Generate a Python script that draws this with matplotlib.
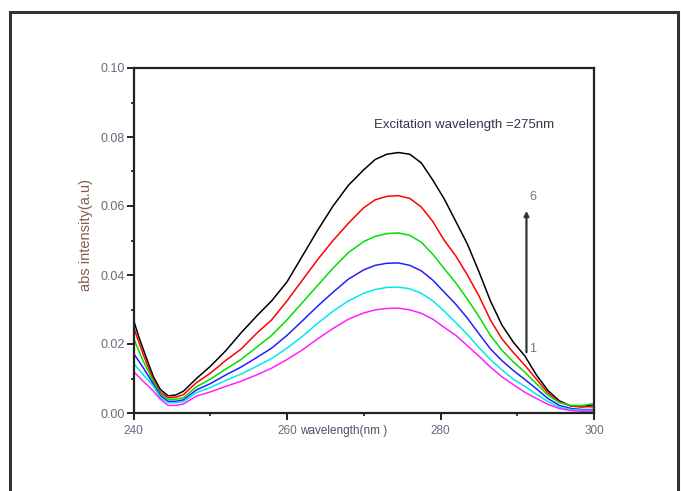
import matplotlib
matplotlib.use('Agg')
import matplotlib.pyplot as plt
from matplotlib.patches import Rectangle

plt.rcParams['font.family'] = ['Liberation Sans', 'DejaVu Sans']

# wavelength (nm) and absorbance, curve 1 (lowest) .. 6 (highest)
wavelength = [240, 240.7, 241.3, 242, 242.6, 243.5, 244.5, 245.5, 246.5, 248.2,
              250, 252, 254, 256, 258, 260, 262, 264, 266, 268,
              270, 271.5, 273, 274.5, 276, 277.5, 279, 280.5, 282, 283.5,
              285, 286.5, 288, 289.5, 291, 292.5, 294, 295.5, 297, 298.5, 300]

abs_6 = [0.027, 0.022, 0.0183, 0.014, 0.0105, 0.0068, 0.005, 0.0052, 0.0063, 0.010,
         0.0135, 0.018, 0.0232, 0.028, 0.0325, 0.038, 0.0455, 0.053, 0.060, 0.066,
         0.0705, 0.0735, 0.075, 0.0755, 0.075, 0.0725, 0.0675, 0.062, 0.0555, 0.049,
         0.041, 0.0325, 0.0255, 0.0205, 0.0165, 0.011, 0.0065, 0.0035, 0.002, 0.0018, 0.0025]
abs_5 = [0.025, 0.0205, 0.0168, 0.0128, 0.0096, 0.006, 0.0045, 0.0046, 0.0053, 0.0088,
         0.0115, 0.0152, 0.0185, 0.023, 0.027, 0.0325, 0.0385, 0.0445, 0.050, 0.055,
         0.0595, 0.0618, 0.0628, 0.063, 0.0622, 0.0597, 0.0555, 0.050, 0.0455, 0.040,
         0.034, 0.027, 0.0215, 0.0175, 0.0138, 0.0098, 0.0058, 0.0032, 0.002, 0.0018, 0.0018]
abs_4 = [0.0217, 0.018, 0.0149, 0.0118, 0.009, 0.0055, 0.004, 0.004, 0.0044, 0.0076,
         0.0098, 0.0127, 0.0155, 0.019, 0.0225, 0.027, 0.032, 0.037, 0.042, 0.0465,
         0.0497, 0.0512, 0.052, 0.0522, 0.0515, 0.0495, 0.046, 0.0418, 0.0377, 0.033,
         0.028, 0.0225, 0.0182, 0.0148, 0.0118, 0.0085, 0.0052, 0.003, 0.0022, 0.0022, 0.0027]
abs_3 = [0.0173, 0.015, 0.013, 0.0105, 0.0083, 0.005, 0.0034, 0.0034, 0.0038, 0.0067,
         0.0085, 0.011, 0.0133, 0.016, 0.0188, 0.0225, 0.0267, 0.031, 0.035, 0.0388,
         0.0415, 0.0428, 0.0434, 0.0435, 0.0428, 0.0412, 0.0385, 0.035, 0.0315, 0.0275,
         0.023, 0.0186, 0.0152, 0.0123, 0.0097, 0.007, 0.0042, 0.0022, 0.0013, 0.001, 0.001]
abs_2 = [0.0144, 0.0126, 0.011, 0.0093, 0.0077, 0.0045, 0.003, 0.003, 0.0033, 0.0059,
         0.0074, 0.0094, 0.0113, 0.0135, 0.0158, 0.0188, 0.0222, 0.026, 0.0295, 0.0325,
         0.0347, 0.0358, 0.0364, 0.0365, 0.036, 0.0347, 0.0325, 0.0295, 0.0262, 0.0228,
         0.019, 0.0155, 0.0125, 0.0098, 0.0077, 0.0054, 0.0033, 0.0017, 0.001, 0.0008, 0.0008]
abs_1 = [0.012, 0.0105, 0.0091, 0.0077, 0.0063, 0.004, 0.0022, 0.0022, 0.0026, 0.0049,
         0.0061, 0.0077, 0.0092, 0.011, 0.013, 0.0155, 0.0183, 0.0215, 0.0245, 0.0272,
         0.029, 0.0299, 0.0303, 0.0304, 0.0299, 0.0289, 0.0272, 0.0248, 0.0225, 0.0195,
         0.0165, 0.0133, 0.0105, 0.0082, 0.006, 0.0042, 0.0025, 0.0013, 0.0007, 0.0005, 0.0005]

series = [abs_6, abs_5, abs_4, abs_3, abs_2, abs_1]
colors = ['black', 'red', '#00e000', '#2020ff', '#00e8f0', '#ff20ff']

xticks = [240, 260, 280, 300]
yticks = [0.00, 0.02, 0.04, 0.06, 0.08, 0.10]

fig = plt.figure(figsize=(6.81, 4.91), dpi=100)
fig.patches.append(Rectangle((10 / 681, -0.05), 668 / 681, 1.05 - 12 / 491,
                             transform=fig.transFigure, fill=False,
                             edgecolor='#333333', lw=2.2))

ax = fig.add_axes([133.5 / 681, 1 - 413 / 491, 460.5 / 681, 345 / 491])

for vals, c in zip(series, colors):
    ax.plot(wavelength, vals, color=c, lw=1.1)

ax.set_xlim(240, 300)
ax.set_ylim(0, 0.10)
ax.set_xticks(xticks)
ax.set_xticks([250, 270, 290], minor=True)
ax.set_yticks(yticks)
ax.set_yticks([0.01, 0.03, 0.05, 0.07, 0.09], minor=True)
ax.set_xticklabels([str(t) for t in xticks])
ax.set_yticklabels(['%.2f' % t for t in yticks])

for s in ax.spines.values():
    s.set_linewidth(1.6)
    s.set_color('#222222')
ax.tick_params(which='major', length=5, width=1.4, color='#222222',
               labelcolor='#6a6a80')
ax.tick_params(axis='x', which='major', pad=4, labelsize=8.5)
ax.tick_params(axis='y', which='major', pad=1.5, labelsize=9)
ax.tick_params(which='minor', length=2.5, width=1.2, color='#222222')

ax.set_xlabel('wavelength(nm )', fontsize=8.5, color='#505068')
ax.xaxis.label.set_va('center')
ax.xaxis.set_label_coords(0.456, -0.053)

fig.text(86 / 681, 1 - 235 / 491, 'abs intensity(a.u)', rotation=90,
         ha='center', va='center', fontsize=10.5, color='#8a5a50')

ax.text(271.4, 0.0835, 'Excitation wavelength =275nm', fontsize=9.5,
        color='#3a3048', ha='left', va='center')

ax.annotate('', xy=(291.2, 0.0594), xytext=(291.2, 0.0168),
            arrowprops=dict(arrowstyle='-|>', color='#333333', lw=1.6,
                            mutation_scale=7))
ax.text(291.6, 0.0625, '6', fontsize=9, color='#807080', ha='left', va='center')
ax.text(291.6, 0.0185, '1', fontsize=9, color='#707090', ha='left', va='center')

fig.savefig('out.png', dpi=100)
